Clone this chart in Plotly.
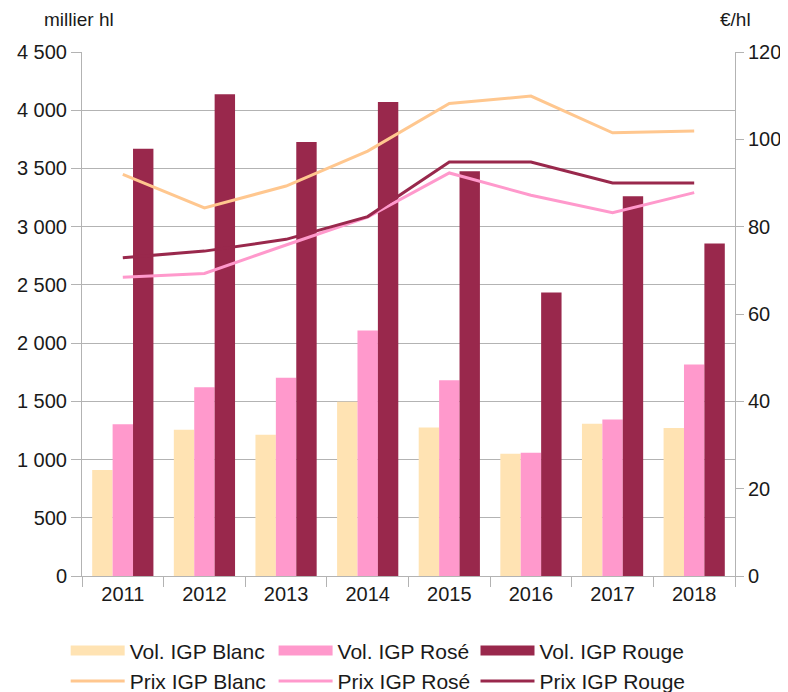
import plotly.graph_objects as go

years = ["2011", "2012", "2013", "2014", "2015", "2016", "2017", "2018"]
vol_blanc = [910, 1255, 1213, 1496, 1276, 1050, 1307, 1270]
vol_rose = [1304, 1622, 1702, 2109, 1682, 1058, 1345, 1817]
vol_rouge = [3670, 4137, 3727, 4071, 3476, 2435, 3261, 2855]
prix_blanc = [92.0, 84.3, 89.3, 97.3, 108.2, 109.9, 101.5, 101.9]
prix_rose = [68.4, 69.3, 75.8, 82.2, 92.3, 87.2, 83.2, 87.8]
prix_rouge = [72.9, 74.4, 77.1, 82.3, 94.8, 94.8, 90.0, 90.0]

c_blanc_bar = "#ffe3b3"
c_rose_bar = "#ff99cc"
c_rouge = "#99284c"
c_blanc_line = "#ffc78f"
c_rose_line = "#ff99cc"

FONT = "Liberation Sans"
TXT = "#1a1a1a"
GRID = "#b3b3b3"

fig = go.Figure()

series = [
    ("Vol. IGP Blanc", vol_blanc, c_blanc_bar, "Prix IGP Blanc", prix_blanc, c_blanc_line, "legend"),
    ("Vol. IGP Rosé", vol_rose, c_rose_bar, "Prix IGP Rosé", prix_rose, c_rose_line, "legend2"),
    ("Vol. IGP Rouge", vol_rouge, c_rouge, "Prix IGP Rouge", prix_rouge, c_rouge, "legend3"),
]

for vname, vvals, vcol, pname, pvals, pcol, leg in series:
    fig.add_trace(go.Bar(x=years, y=vvals, name=vname,
                         marker=dict(color=vcol, line=dict(width=0)), showlegend=False))

for vname, vvals, vcol, pname, pvals, pcol, leg in series:
    # legend swatch entry for the bar series
    fig.add_trace(go.Scatter(x=[None], y=[None], mode="lines", name=vname,
                             line=dict(color=vcol, width=12), legend=leg))
    fig.add_trace(go.Scatter(x=years, y=pvals, name=pname, mode="lines", yaxis="y2",
                             line=dict(color=pcol, width=3), legend=leg))

leg_common = dict(orientation="v", yanchor="middle", xanchor="left", y=-0.1717,
                  font=dict(size=21, color=TXT), itemwidth=54, tracegroupgap=0,
                  bgcolor="rgba(0,0,0,0)", traceorder="normal")

fig.update_layout(
    width=780, height=684,
    margin=dict(l=74, r=53, t=44, b=116, autoexpand=False),
    paper_bgcolor="white", plot_bgcolor="white",
    font=dict(family=FONT, color=TXT, size=16),
    separators=", ",
    barmode="group", bargap=0.25, bargroupgap=0,
    xaxis=dict(type="category", ticks="outside", tickson="boundaries", ticklen=10,
               tickcolor=GRID, showline=True, linecolor=GRID, linewidth=1,
               tickfont=dict(size=20, color=TXT), showgrid=False, automargin=False),
    yaxis=dict(range=[0, 4500], dtick=500, tickformat=",d", showgrid=True, gridcolor=GRID,
               gridwidth=1, ticks="outside", ticklen=10, tickcolor=GRID, showline=True,
               linecolor=GRID, tickfont=dict(size=20, color=TXT), zeroline=False, automargin=False),
    yaxis2=dict(range=[0, 120], dtick=20, overlaying="y", side="right", showgrid=False,
                ticks="outside", ticklen=8, tickcolor=GRID, showline=True, linecolor=GRID,
                tickfont=dict(size=20, color=TXT), zeroline=False, automargin=False),
    legend=dict(leg_common, x=-0.025),
    legend2=dict(leg_common, x=0.2934),
    legend3=dict(leg_common, x=0.6026),
    annotations=[
        dict(text="millier hl", xref="paper", yref="paper", x=-0.062, y=1.062,
             xanchor="left", yanchor="middle", showarrow=False, font=dict(size=19, color=TXT)),
        dict(text="€/hl", xref="paper", yref="paper", x=1.0, y=1.062,
             xanchor="center", yanchor="middle", showarrow=False, font=dict(size=19, color=TXT)),
    ],
)

fig.write_html("out.html")
